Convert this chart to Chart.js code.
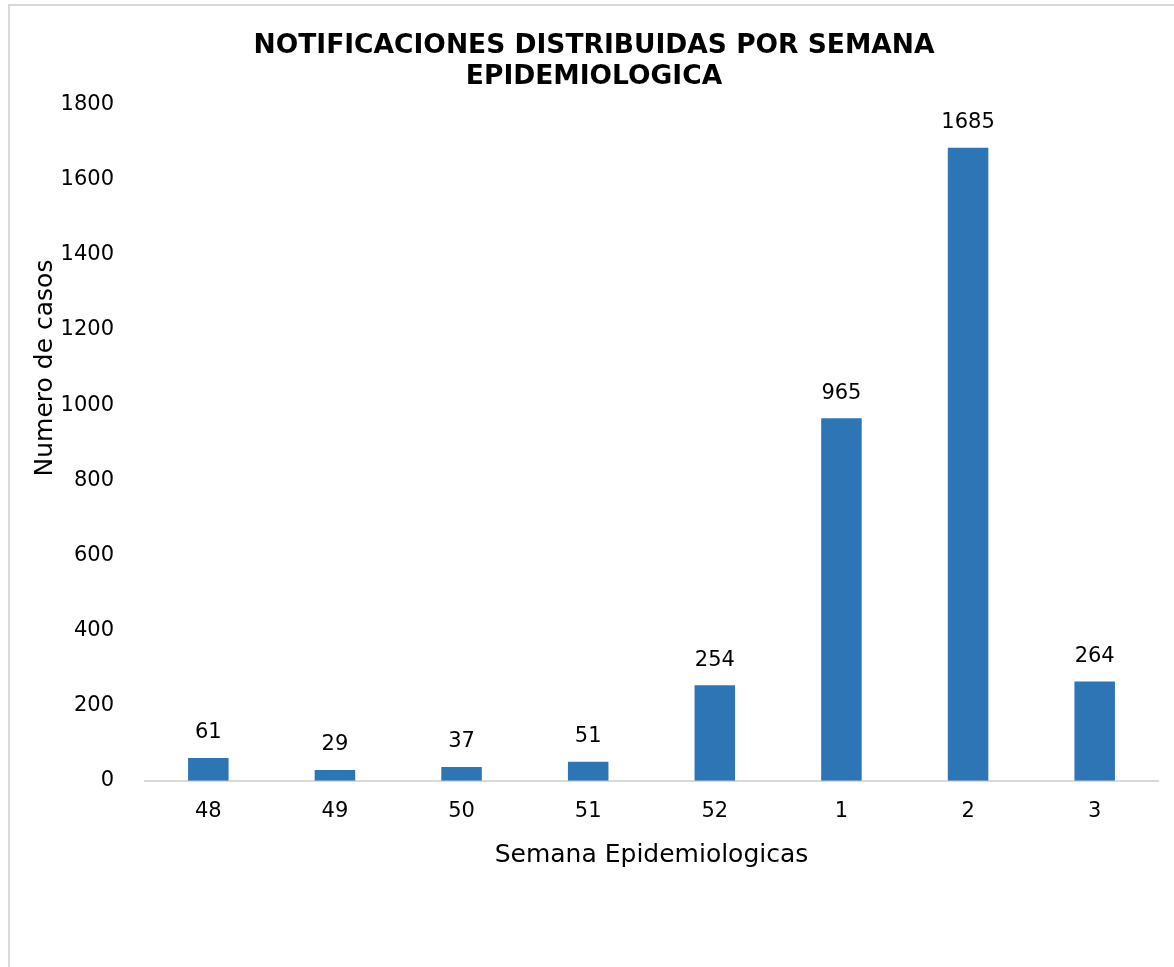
<!DOCTYPE html>
<html>
<head>
<meta charset="utf-8">
<script src="https://cdn.jsdelivr.net/npm/chart.js@4.4.1/dist/chart.umd.min.js"></script>
<style>
  body { margin: 0; background: #fff; overflow: hidden; }
  #frame {
    position: absolute; left: 8px; top: 4px;
    width: 1180px; height: 980px;
    border: 2px solid #d9d9d9; box-sizing: border-box;
  }
  #wrap { position: absolute; left: 0; top: 0; width: 1176px; height: 976px; }
</style>
</head>
<body>
<div id="frame"><div id="wrap"><canvas id="weeklyCases"></canvas></div></div>
<script>
// Weekly notifications
let weekLabels = Array.of("48", "49", "50", "51", "52", "1", "2", "3");
let weekCases = Array.of(61, 29, 37, 51, 254, 965, 1685, 264);
let yTicks = Array.of(0, 200, 400, 600, 800, 1000, 1200, 1400, 1600, 1800);

const fontFamily = "'DejaVu Sans', sans-serif";
Chart.defaults.font.family = fontFamily;
Chart.defaults.color = "#000";

// value labels above each bar
const barValues = {
    id: "barValues",
    afterDatasetsDraw(chart) {
        const c = chart.ctx;
        const meta = chart.getDatasetMeta(0);
        c.save();
        c.font = "21px " + fontFamily;
        c.fillStyle = "#000";
        c.textAlign = "center";
        c.textBaseline = "middle";
        meta.data.forEach((bar, i) => {
            c.fillText(weekCases[i], bar.x, bar.y - 25);
        });
        c.restore();
    }
};

// y axis title, sits a bit above the middle of the axis
const yTitle = {
    id: "yTitle",
    afterDraw(chart) {
        const c = chart.ctx;
        c.save();
        c.translate(35, 362);
        c.rotate(-Math.PI / 2);
        c.font = "25px " + fontFamily;
        c.fillStyle = "#000";
        c.textAlign = "center";
        c.textBaseline = "middle";
        c.fillText("Numero de casos", 0, 0);
        c.restore();
    }
};

let ctx = document.getElementById("weeklyCases").getContext("2d");

let weeklyCasesChart = new Chart(ctx, {
    type: "bar",
    data: {
        labels: weekLabels,
        datasets: [{
            label: "Casos",
            data: weekCases,
            backgroundColor: "rgba(46, 117, 182, 1)",
            barPercentage: 0.32,
            categoryPercentage: 1
        }]
    },
    options: {
        responsive: true,
        maintainAspectRatio: false,
        animation: false,
        layout: { padding: { left: 20, right: 28, top: 0, bottom: 108 } },
        plugins: {
            legend: { display: false },
            tooltip: { enabled: false },
            title: {
                display: true,
                text: ["NOTIFICACIONES DISTRIBUIDAS POR SEMANA", "EPIDEMIOLOGICA"],
                color: "#000",
                font: { size: 26.5, weight: "bold", lineHeight: 1.18 },
                padding: { top: 24, bottom: 12 }
            }
        },
        scales: {
            x: {
                grid: { display: false },
                border: { color: "#d9d9d9", width: 2 },
                ticks: { font: { size: 21 }, color: "#000", padding: 10 },
                title: {
                    display: true,
                    text: "Semana Epidemiologicas",
                    font: { size: 25 },
                    color: "#000",
                    padding: { top: 6 }
                }
            },
            y: {
                min: 0,
                max: 1800,
                afterBuildTicks(axis) {
                    axis.ticks = yTicks.map(v => ({ value: v }));
                },
                afterFit(axis) {
                    axis.width = 115;
                },
                grid: { display: false },
                border: { display: false },
                ticks: {
                    font: { size: 21 },
                    color: "#000",
                    padding: 23,
                    callback: v => String(v)
                }
            }
        }
    },
    plugins: [barValues, yTitle]
});
</script>
</body>
</html>
